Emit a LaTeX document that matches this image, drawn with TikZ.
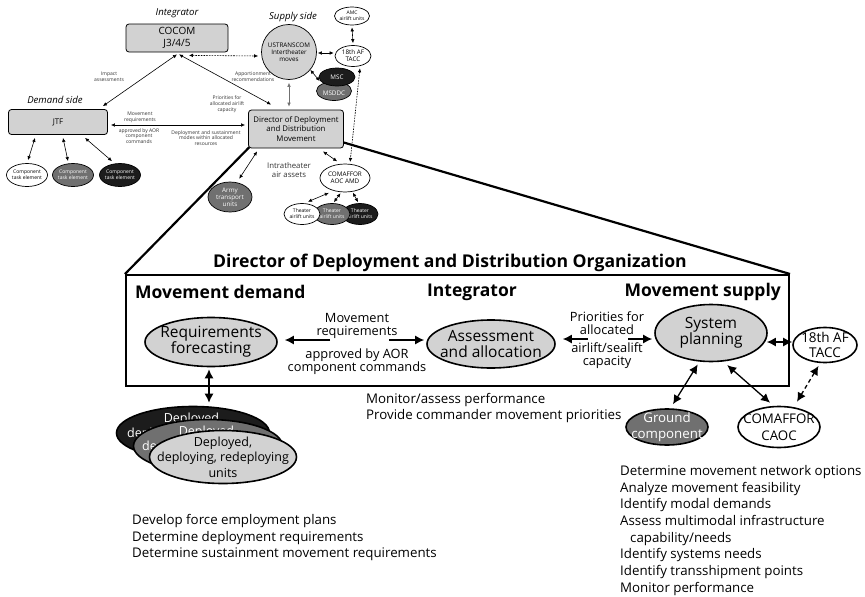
\documentclass[tikz,border=0pt]{standalone}
\usepackage{fontspec}
\setmainfont{Open Sans}
\usetikzlibrary{arrows.meta,shapes.geometric,calc}
\definecolor{lgray}{HTML}{D2D2D2}
\definecolor{mgray}{HTML}{707070}
\definecolor{dkfill}{HTML}{1C1C1C}
\definecolor{lbltxt}{HTML}{333333}
\newcommand{\SzA}{\fontsize{5}{5.8}\selectfont}
\newcommand{\SzB}{\fontsize{6.3}{7.2}\selectfont}
\newcommand{\SzC}{\fontsize{7.8}{9.2}\selectfont}
\newcommand{\SzI}{\fontsize{9.6}{11}\selectfont}
\newcommand{\SzK}{\fontsize{10}{11.5}\selectfont}
\newcommand{\SzT}{\fontsize{17.6}{20}\selectfont}
\newcommand{\SzH}{\fontsize{17.5}{20}\selectfont}
\newcommand{\SzE}{\fontsize{15.5}{16}\selectfont}
\newcommand{\SzF}{\fontsize{13.5}{14.5}\selectfont}
\newcommand{\SzL}{\fontsize{12.8}{13}\selectfont}
\newcommand{\SzM}{\fontsize{12.5}{15.5}\selectfont}
\newcommand{\SzP}{\fontsize{13.3}{16.7}\selectfont}
\begin{document}
\begin{tikzpicture}[x=1pt,y=-1pt,
  tbox/.style={draw=black, line width=0.8pt, rounded corners=3pt, fill=lgray, align=center, inner sep=0pt},
  sell/.style={ellipse, draw=black, line width=0.7pt, inner sep=0pt},
  bell/.style={ellipse, draw=black, line width=1.6pt, inner sep=0pt},
  etxt/.style={align=center, inner sep=0pt},
  sarr/.style={{Latex[length=4pt,width=3.6pt]}-{Latex[length=4pt,width=3.6pt]}, line width=0.6pt},
  darr/.style={sarr, dash pattern=on 1.6pt off 1.1pt},
  barr/.style={{Latex[length=9pt,width=9pt]}-{Latex[length=9pt,width=9pt]}, line width=1.3pt},
  barrone/.style={-{Latex[length=9pt,width=9pt]}, line width=1.3pt},
  lbl/.style={align=center, inner sep=0pt, text=lbltxt, font=\SzA},
  zoomline/.style={line width=2.2pt},
]
\useasboundingbox (0,0) rectangle (865,597);

% ---------- big box and zoom lines ----------
\node[draw, line width=2pt, minimum width=663pt, minimum height=111pt, inner sep=0pt] (ddbox) at (457.5,330.5) {};
\node[minimum width=95pt, minimum height=38pt, inner sep=0pt] (ddmghost) at (296,129) {};
\draw[zoomline] ($(ddmghost.south west)+(1,-1)$) -- (ddbox.north west);
\draw[zoomline] ($(ddmghost.south east)+(-1,-6)$) -- (ddbox.north east);

% ---------- top part ----------
\node[font=\SzI\itshape, inner sep=0pt] (intlbl) at (177,13) {Integrator};
\node[tbox, minimum width=102pt, minimum height=28pt, font=\SzK] (cocom) at (177,38) {COCOM\\J3/4/5};
\node[font=\SzI\itshape, inner sep=0pt] (suplbl) at (293,17) {Supply side};
\node[font=\SzI\itshape, inner sep=0pt] (demlbl) at (55,100) {Demand side};
\node[tbox, minimum width=99pt, minimum height=25pt, font=\SzC] (jtf) at (58,122) {JTF};
\node[tbox, minimum width=95pt, minimum height=38pt, font=\SzC] (ddm) at (296,129) {Director of Deployment\\and Distribution\\Movement};

\node[sell, fill=lgray, minimum width=55pt, minimum height=55pt] (ust) at (289,52) {};
\node[etxt, font=\SzB] (ustt) at (ust) {USTRANSCOM\\Intertheater\\moves};
\node[sell, fill=white, minimum width=35pt, minimum height=18pt] (amc) at (352,16) {};
\node[etxt, font=\SzA] (amct) at (amc) {AMC\\airlift units};
\node[sell, fill=white, minimum width=36pt, minimum height=21pt] (taccs) at (353,56) {};
\node[etxt, font=\SzB] (taccst) at (taccs) {18th AF\\TACC};
\node[sell, fill=mgray, minimum width=35pt, minimum height=19pt] (msddc) at (334,91) {};
\node[etxt, font=\SzB, text=white] (msddct) at ($(msddc)+(0,2)$) {MSDDC};
\node[sell, fill=dkfill, minimum width=36pt, minimum height=18pt] (msc) at (337,77) {};
\node[etxt, font=\SzB, text=white] (msct) at (msc) {MSC};

\node[sell, fill=white, minimum width=41pt, minimum height=23pt] (compa) at (27,175) {};
\node[etxt, font=\SzA] (compat) at (compa) {Component\\task element};
\node[sell, fill=mgray, minimum width=41pt, minimum height=23pt] (compb) at (73,175) {};
\node[etxt, font=\SzA, text=white] (compbt) at (compb) {Component\\task element};
\node[sell, fill=dkfill, minimum width=41pt, minimum height=23pt] (compc) at (120,175) {};
\node[etxt, font=\SzA, text=white] (compct) at (compc) {Component\\task element};

\node[sell, fill=mgray, minimum width=44pt, minimum height=30pt] (army) at (230,197) {};
\node[etxt, font=\SzB, text=white] (armyt) at (army) {Army\\transport\\units};
\node[etxt, font=\SzC, text=lbltxt] (intra) at (289,170) {Intratheater\\air assets};
\node[sell, fill=white, minimum width=50pt, minimum height=28pt] (comaf) at (345,178) {};
\node[etxt, font=\SzB] (comaft) at (comaf) {COMAFFOR\\AOC AMD};

\node[sell, fill=dkfill, minimum width=36pt, minimum height=21pt] (thc) at (360,214) {};
\node[etxt, font=\SzA, text=white] (thct) at (thc) {Theater\\airlift units};
\node[sell, fill=mgray, minimum width=36pt, minimum height=21pt] (thb) at (332,214) {};
\node[etxt, font=\SzA, text=white] (thbt) at (thb) {Theater\\airlift units};
\node[sell, fill=white, minimum width=36pt, minimum height=21pt] (tha) at (302,214) {};
\node[etxt, font=\SzA] (that) at (tha) {Theater\\airlift units};

% top labels
\node[lbl] (impact) at (109,77) {Impact\\assessments};
\node[lbl] (appor) at (253,77) {Apportionment\\recommendations};
\node[lbl] (prio) at (227,104) {Priorities for\\allocated airlift\\capacity};
\node[lbl] (movreq) at (140,117) {Movement\\requirements};
\node[lbl] (approv) at (139,136) {approved by AOR\\component\\commands};
\node[lbl] (deploy) at (206,138) {Deployment and sustainment\\modes within allocated\\resources};

% top arrows
\draw[sarr] ($(cocom.south)+(0,2)$) -- ($(jtf.north east)+(-5,-3)$);
\draw[sarr] ($(cocom.south)+(2,2)$) -- ($(ddm.north west)+(23,-5)$);
\draw[darr] ($(cocom.south)+(12,3)$) -- ($(ust.west)+(-3,4)$);
\draw[sarr] ($(jtf.east)+(3,3)$) -- ($(ddm.west)+(-3,-4)$);
\draw[sarr, draw=mgray] ($(ust.south)+(0,3)$) -- ($(ddm.north)+(-7,-3)$);
\draw[sarr] ($(ust.east)+(1,1)$) -- ($(taccs.west)+(-1,-3)$);
\draw[sarr] ($(amc.south)+(0,2)$) -- ($(taccs.north)+(0,-2)$);
\draw[sarr] (ust.-40) -- ($(msc.west)+(1,4)$);
\draw[darr] ($(taccs.-60)+(1,2)$) -- ($(comaf.70)+(0,-2)$);
\draw[sarr] ($(ddm.south)+(27,3)$) -- ($(comaf.120)+(0,-3)$);
\draw[sarr] ($(ddm.south west)+(9,3)$) -- ($(army.60)+(1,-4)$);
\draw[sarr] ($(jtf.south)+(-23,3)$) -- ($(compa.north)+(1,-3)$);
\draw[sarr] ($(jtf.south)+(5,3)$) -- ($(compb.north)+(-5,-2)$);
\draw[sarr] ($(jtf.south)+(27,3)$) -- ($(compc.north)+(-8,-2)$);
\draw[sarr] ($(comaf.-140)+(-2,3)$) -- ($(tha.60)+(0,-2)$);
\draw[sarr] ($(comaf.-100)+(-2,1)$) -- ($(thb.80)+(0,-1)$);
\draw[sarr] ($(comaf.-60)+(0,1)$) -- ($(thc.100)+(0,-1)$);

% ---------- middle ----------
\node[font=\SzT\bfseries, inner sep=0pt] (title) at (450,263) {Director of Deployment and Distribution Organization};
\node[font=\SzH\bfseries, anchor=west, inner sep=0pt] (hdem) at (135,292) {Movement demand};
\node[font=\SzH\bfseries, inner sep=0pt] (hint) at (472,292) {Integrator};
\node[font=\SzH\bfseries, anchor=east, inner sep=0pt] (hsup) at (781,292) {Movement supply};

\node[bell, fill=lgray, minimum width=132pt, minimum height=49pt] (req) at (211,342) {};
\node[etxt, font=\SzE] (reqt) at (req) {Requirements\\forecasting};
\node[bell, fill=lgray, minimum width=128pt, minimum height=48pt] (assess) at (491,344) {};
\node[etxt, font=\SzE] (assesst) at (assess) {Assessment\\and allocation};
\node[bell, fill=lgray, minimum width=112pt, minimum height=57pt] (sysp) at (711,333) {};
\node[etxt, font=\SzE] (syspt) at (sysp) {System\\planning};
\node[bell, fill=white, minimum width=64pt, minimum height=35pt] (taccb) at (825,345) {};
\node[etxt, font=\SzF] (taccbt) at (taccb) {18th AF\\TACC};

\node[etxt, font=\SzL] (mra) at (357,326) {Movement\\requirements};
\node[etxt, font=\SzL] (mrb) at (357,362) {approved by AOR\\component commands};
\node[etxt, font=\SzL] (pra) at (607,323) {Priorities for\\allocated};
\node[etxt, font=\SzL] (prb) at (607,356) {airlift/sealift\\capacity};
\coordinate (mrl) at (330,340);
\coordinate (mrr) at (389,340);
\coordinate (prl) at (588,339);
\coordinate (prr) at (628,339);
\draw[barrone] (mrl) -- ($(req.east)+(7,-2)$);
\draw[barrone] (mrr) -- ($(assess.west)+(-2,-4)$);
\draw[barrone] (prl) -- ($(assess.east)+(7,-5)$);
\draw[barrone] (prr) -- ($(sysp.west)+(-2,6)$);
\draw[barr] ($(sysp.east)+(-1,9)$) -- ($(taccb.west)+(0,-3)$);

% deployed units
\node[bell, fill=dkfill, minimum width=153pt, minimum height=53pt] (depa) at (193,433) {};
\node[etxt, font=\SzM, text=white] (depat) at (depa) {Deployed,\\deploying, redeploying\\units};
\node[bell, fill=mgray, minimum width=149pt, minimum height=53pt] (depb) at (208,446) {};
\node[etxt, font=\SzM, text=white] (depbt) at (depb) {Deployed,\\deploying, redeploying\\units};
\node[bell, fill=lgray, minimum width=147pt, minimum height=53pt] (depc) at (223,457) {};
\node[etxt, font=\SzM] (depct) at (depc) {Deployed,\\deploying, redeploying\\units};
\draw[barr] ($(req.south)+(-2,2)$) -- ($(depa.north)+(16,-3)$);

\node[etxt, font=\SzP, align=left, anchor=west] (monit) at (366,408) {Monitor/assess performance\\Provide commander movement priorities};

\node[bell, fill=mgray, minimum width=82pt, minimum height=36pt] (ground) at (667,427) {};
\node[etxt, font=\SzP, text=white] (groundt) at (ground) {Ground\\component};
\node[bell, fill=white, minimum width=82pt, minimum height=41pt] (comafb) at (779,427) {};
\node[etxt, font=\SzP] (comafbt) at (comafb) {COMAFFOR\\CAOC};
\draw[barr] ($(sysp.-115)+(0,3)$) -- ($(ground.north)+(6,-4)$);
\draw[barr] ($(sysp.-60)+(0,4)$) -- ($(comafb.north)+(-9,-3)$);
\draw[barr, dash pattern=on 4pt off 3pt] ($(taccb.-110)+(0,3)$) -- ($(comafb.north)+(18,-4)$);

% lists
\node[etxt, font=\SzP, align=left, anchor=north west] (listl) at (132,514) {Develop force employment plans\\Determine deployment requirements\\Determine sustainment movement requirements};
\node[etxt, font=\SzP, align=left, anchor=north west] (listr) at (620,465) {Determine movement network options\\Analyze movement feasibility\\Identify modal demands\\Assess multimodal infrastructure\\\hspace*{10pt}capability/needs\\Identify systems needs\\Identify transshipment points\\Monitor performance};
\end{tikzpicture}
\end{document}
